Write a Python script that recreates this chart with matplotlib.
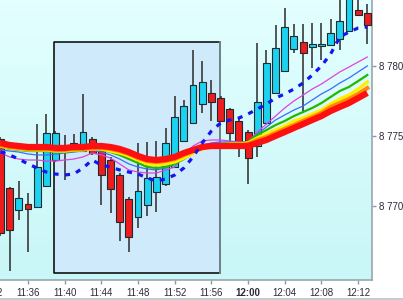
import numpy as np
import matplotlib
matplotlib.use('Agg')
import matplotlib.pyplot as plt
from matplotlib.patches import Rectangle
from matplotlib.colors import LinearSegmentedColormap

plt.rcParams['font.family'] = ['Liberation Sans', 'DejaVu Sans']

# minutes after 11:00, one candle per minute (11:33 .. 12:13)
minutes = list(range(33, 74))

opens = [8774.76, 8771.26, 8769.69, 8770.12, 8769.90, 8771.40, 8773.26, 8774.05, 8774.19, 8773.90,
         8774.76, 8774.26, 8773.26, 8772.19, 8770.48, 8769.19, 8770.05, 8770.98, 8771.55, 8772.76,
         8774.62, 8775.90, 8777.26, 8778.05, 8777.69, 8776.90, 8776.05, 8775.26, 8774.26, 8775.90,
         8778.05, 8779.62, 8781.19, 8781.69, 8781.33, 8781.40, 8781.48, 8781.90, 8782.48, 8783.98,
         8783.76]
highs = [8774.90, 8771.33, 8771.76, 8770.90, 8775.83, 8776.55, 8775.33, 8775.05, 8775.12, 8777.98,
         8774.90, 8774.48, 8773.48, 8772.33, 8770.62, 8774.48, 8774.55, 8774.62, 8775.55, 8777.83,
         8777.55, 8781.12, 8780.33, 8778.98, 8777.83, 8776.98, 8776.19, 8775.40, 8781.62, 8781.12,
         8782.90, 8784.12, 8782.98, 8782.98, 8783.05, 8783.05, 8783.33, 8785.05, 8785.05, 8785.05,
         8784.40]
lows = [8767.83, 8765.33, 8768.98, 8766.69, 8769.83, 8771.33, 8773.12, 8771.83, 8773.98, 8773.83,
        8773.62, 8770.05, 8769.48, 8767.48, 8766.69, 8768.40, 8769.26, 8769.55, 8771.40, 8772.69,
        8774.55, 8775.83, 8776.62, 8776.05, 8775.98, 8774.19, 8773.48, 8771.55, 8773.48, 8775.83,
        8777.98, 8779.55, 8780.90, 8776.62, 8779.83, 8780.40, 8781.40, 8781.12, 8782.40, 8783.55,
        8781.55]
closes = [8768.05, 8768.26, 8770.55, 8769.76, 8772.76, 8775.19, 8775.19, 8773.83, 8774.48, 8775.26,
          8773.76, 8772.19, 8771.19, 8768.83, 8767.76, 8771.05, 8771.98, 8772.05, 8774.48, 8776.33,
          8777.12, 8778.62, 8778.83, 8777.40, 8776.05, 8775.19, 8774.33, 8773.40, 8777.40, 8780.19,
          8781.26, 8782.76, 8782.12, 8780.90, 8781.55, 8781.55, 8782.33, 8783.19, 8784.90, 8783.62,
          8782.90]

# fast average (dashed)
fast_avg = [8773.83, 8773.62, 8773.33, 8772.98, 8772.69, 8772.40, 8772.26, 8772.19, 8772.26, 8772.69,
            8773.26, 8772.90, 8772.76, 8772.55, 8772.40, 8772.26, 8771.98, 8771.76, 8771.90, 8772.19,
            8772.69, 8773.48, 8774.48, 8775.33, 8775.90, 8776.12, 8776.26, 8776.55, 8776.90, 8777.26,
            8777.69, 8777.98, 8778.33, 8778.76, 8779.33, 8779.98, 8780.83, 8782.05, 8782.40, 8782.69,
            8782.76]

# ribbon of averages
rib_magenta = [8773.76, 8773.48, 8773.33, 8773.26, 8773.26, 8773.19, 8773.19, 8773.26, 8773.33, 8773.48,
               8773.76, 8773.62, 8773.40, 8772.98, 8772.55, 8772.40, 8772.33, 8772.33, 8772.55, 8772.76,
               8773.62, 8774.26, 8774.62, 8774.69, 8774.69, 8774.62, 8774.55, 8774.55, 8775.26, 8775.83,
               8776.40, 8776.98, 8777.48, 8777.90, 8778.33, 8778.69, 8779.12, 8779.55, 8779.90, 8780.26,
               8780.62]
rib_blue = [8773.98, 8773.90, 8773.83, 8773.69, 8773.62, 8773.62, 8773.69, 8773.76, 8773.83, 8773.90,
            8773.98, 8773.83, 8773.62, 8773.33, 8772.98, 8772.76, 8772.62, 8772.55, 8772.69, 8772.98,
            8773.62, 8774.12, 8774.33, 8774.48, 8774.55, 8774.55, 8774.48, 8774.55, 8775.12, 8775.62,
            8776.12, 8776.48, 8776.83, 8777.12, 8777.55, 8777.98, 8778.33, 8778.76, 8779.12, 8779.55,
            8779.98]
rib_green = [8774.19, 8774.05, 8773.98, 8773.90, 8773.90, 8773.90, 8773.83, 8773.83, 8773.90, 8773.98,
             8774.05, 8773.98, 8773.83, 8773.62, 8773.33, 8773.05, 8772.76, 8772.69, 8772.76, 8772.98,
             8773.33, 8773.76, 8774.12, 8774.33, 8774.40, 8774.48, 8774.48, 8774.55, 8775.05, 8775.40,
             8775.76, 8776.05, 8776.40, 8776.69, 8776.98, 8777.33, 8777.76, 8778.19, 8778.48, 8778.90,
             8779.33]
rib_yellow = [8774.26, 8774.12, 8774.05, 8773.98, 8773.98, 8773.98, 8773.90, 8773.90, 8773.98, 8773.98,
              8774.05, 8774.05, 8773.90, 8773.76, 8773.55, 8773.26, 8772.98, 8772.90, 8772.98, 8773.12,
              8773.40, 8773.76, 8774.05, 8774.26, 8774.33, 8774.40, 8774.40, 8774.48, 8774.83, 8775.12,
              8775.40, 8775.69, 8776.05, 8776.26, 8776.55, 8776.83, 8777.26, 8777.62, 8777.90, 8778.33,
              8778.83]
rib_orange = [8774.33, 8774.19, 8774.12, 8774.05, 8774.05, 8774.05, 8773.98, 8773.98, 8774.05, 8774.05,
              8774.12, 8774.12, 8774.05, 8773.90, 8773.69, 8773.40, 8773.19, 8773.12, 8773.19, 8773.33,
              8773.62, 8773.90, 8774.12, 8774.26, 8774.26, 8774.33, 8774.33, 8774.40, 8774.69, 8774.90,
              8775.19, 8775.48, 8775.76, 8776.05, 8776.33, 8776.62, 8777.05, 8777.33, 8777.62, 8777.98,
              8778.40]
rib_red = [8774.48, 8774.33, 8774.26, 8774.19, 8774.19, 8774.19, 8774.12, 8774.12, 8774.19, 8774.19,
           8774.26, 8774.26, 8774.19, 8774.05, 8773.83, 8773.55, 8773.33, 8773.26, 8773.33, 8773.48,
           8773.76, 8773.98, 8774.19, 8774.26, 8774.26, 8774.26, 8774.26, 8774.26, 8774.48, 8774.69,
           8774.98, 8775.26, 8775.55, 8775.83, 8776.12, 8776.40, 8776.76, 8777.05, 8777.33, 8777.69,
           8778.05]

tick_minutes = [32, 36, 40, 44, 48, 52, 56, 60, 64, 68, 72]
tick_labels = ['11:32', '11:36', '11:40', '11:44', '11:48', '11:52', '11:56',
               '12:00', '12:04', '12:08', '12:12']
price_ticks = [8770, 8775, 8780]
price_labels = ['8 770', '8 775', '8 780']

# highlighted range: minutes from/to, price from/to
box_range = [38.87, 56.94, 8765.19, 8781.67]

x = np.array(minutes, dtype=float)
o = np.array(opens); h = np.array(highs); l = np.array(lows); c = np.array(closes)

fig = plt.figure(figsize=(4.03, 3.0), dpi=100, facecolor='white')
ax = fig.add_axes([0.0, 0.0667, 0.923, 0.9333])
xmin, xmax = 32.95, 73.51
ymin, ymax = 8764.69, 8784.69

# soft cyan gradient background
bg = LinearSegmentedColormap.from_list('bg', ['#c9f6f7', '#e3ffff'])
ax.imshow(np.linspace(0, 1, 64).reshape(-1, 1), cmap=bg, origin='lower', aspect='auto',
          extent=[xmin, xmax, ymin, ymax], zorder=0)

bx0, bx1, by0, by1 = box_range
ax.add_patch(Rectangle((bx0, by0), bx1 - bx0, by1 - by0, facecolor='#cfeafb',
                       edgecolor='none', zorder=0.5))
ax.plot([bx1, bx0, bx0, bx1], [by1, by1, by0, by0], color='black', lw=1.1, zorder=0.6)
ax.plot([bx1, bx1], [by0, by1], color='#6f7f86', lw=1.4, zorder=0.6)

# candles
up = c >= o
ax.vlines(x, l, h, color='#2a2a2a', lw=1.1, zorder=2)
ax.bar(x, np.abs(c - o), bottom=np.minimum(o, c), width=0.75,
       color=np.where(up, '#1bd2f0', '#ee1c1c'), edgecolor='#1e2a2e', linewidth=0.8, zorder=3)

# ribbon
ax.plot(x, rib_magenta, color='#dd44dd', lw=0.9, zorder=4)
ax.plot(x, rib_blue, color='#3a6cff', lw=0.9, zorder=4)
ax.plot(x, rib_green, color='#22b800', lw=1.6, zorder=4)
ax.plot(x, rib_yellow, color='#ffee00', lw=2.4, zorder=4)
ax.plot(x, rib_orange, color='#ff8a00', lw=3.0, zorder=4)
ax.plot(x, rib_red, color='#ff1010', lw=4.5, zorder=4, solid_capstyle='butt')
ax.plot(x, fast_avg, color='#1414ee', lw=2.3, ls=(0, (1.6, 2.0)), zorder=5)

# time ticks; the first one sits just left of the visible range
inside = [(m, s) for m, s in zip(tick_minutes, tick_labels) if m >= xmin]
ax.set_xticks([m for m, s in inside])
ax.set_xticklabels([s for m, s in inside])
for m, s in zip(tick_minutes, tick_labels):
    if m < xmin:
        ax.text(m, -0.03, s, transform=ax.get_xaxis_transform(), ha='center', va='top',
                fontsize=7, color='#2e2a3a', clip_on=False)
for t in ax.get_xticklabels():
    if t.get_text() == '12:00':
        t.set_fontweight('bold')
        t.set_fontsize(8)
ax.yaxis.tick_right()
ax.set_yticks(price_ticks)
ax.set_yticklabels(price_labels)

ax.set_xlim(xmin, xmax)
ax.set_ylim(ymin, ymax)

ax.tick_params(axis='both', labelsize=7, colors='#8a9aa4', labelcolor='#2e2a3a', length=3, width=1)
ax.tick_params(axis='x', pad=3)
ax.tick_params(axis='y', pad=2)
for side in ['left', 'top']:
    ax.spines[side].set_visible(False)
for side in ['right', 'bottom']:
    ax.spines[side].set_color('#9aa6ae')
    ax.spines[side].set_linewidth(1.2)

fig.patches.append(Rectangle((0, 0), 1, 0.008, transform=fig.transFigure,
                             facecolor='#c5ccd2', edgecolor='none'))

fig.savefig('out.png', dpi=100, facecolor='white')
